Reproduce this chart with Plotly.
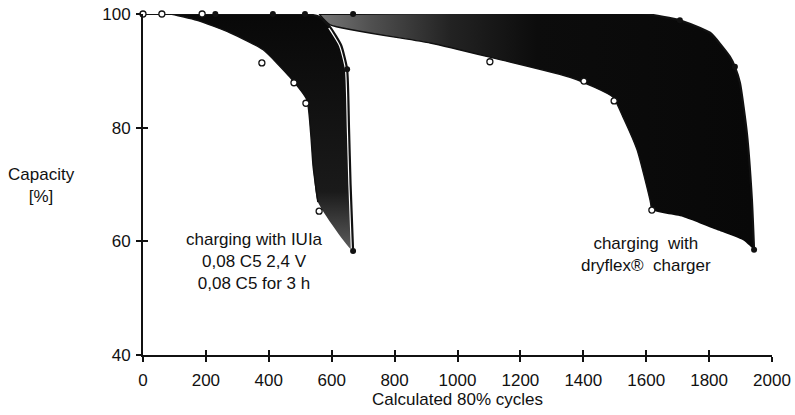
import plotly.graph_objects as go

# ---- data ----
# IUIa charging band
iu_upper_x = [0, 230, 413, 515, 560, 595, 630, 649, 655, 660, 668]
iu_upper_y = [100, 100, 100, 100, 99.5, 97.7, 94.5, 90.3, 80, 70, 58.3]
iu_lower_x = [60, 86, 172, 277, 382, 467, 521, 533, 541, 556]
iu_lower_y = [100, 100, 98.9, 96.7, 93.7, 88.9, 84.9, 79.1, 73.1, 66.9]
iu_open_x = [0, 60, 188, 378, 480, 518, 560]
iu_open_y = [100, 100, 100, 91.4, 87.9, 84.3, 65.3]
iu_dot_x = [230, 413, 515, 649, 668]
iu_dot_y = [100, 100, 100, 90.3, 58.3]

# dryflex charger band
dry_upper_x = [560, 668, 1192, 1297, 1494, 1600, 1707, 1803, 1866, 1882, 1898, 1920, 1936, 1943]
dry_upper_y = [100, 100, 100.4, 100.5, 100.4, 100, 98.9, 96.7, 92.5, 90.7, 87.9, 79.1, 67.4, 58.5]
dry_lower_x = [560, 595, 913, 1103, 1367, 1494, 1526, 1571, 1612, 1618]
dry_lower_y = [100, 98.1, 94.9, 92.4, 88.7, 85.4, 81.9, 76.1, 67.3, 65.5]
dry_bottom_x = [1618, 1717, 1825, 1908, 1943]
dry_bottom_y = [65.5, 64.3, 62.0, 60.2, 58.5]
dry_open_x = [1103, 1402, 1498, 1618]
dry_open_y = [91.6, 88.2, 84.7, 65.5]
dry_dot_x = [668, 1192, 1297, 1494, 1707, 1882, 1943]
dry_dot_y = [100, 100.4, 100.5, 100.4, 98.9, 90.7, 58.5]

x_ticks = [0, 200, 400, 600, 800, 1000, 1200, 1400, 1600, 1800, 2000]
y_ticks = [40, 60, 80, 100]

FONT = "Liberation Sans, Arial, Helvetica, sans-serif"
INK = "#111111"
SMOOTH = 0.5

fig = go.Figure()

# dryflex band polygon
dry_poly_x = dry_lower_x + dry_bottom_x[1:] + dry_upper_x[::-1]
dry_poly_y = dry_lower_y + dry_bottom_y[1:] + dry_upper_y[::-1]
fig.add_trace(go.Scatter(
    x=dry_poly_x, y=dry_poly_y, mode="lines", fill="toself",
    line=dict(width=0, color="rgba(0,0,0,0)", shape="spline", smoothing=SMOOTH),
    fillgradient=dict(type="horizontal",
                      colorscale=[[0, "#777777"], [0.12, "#505050"],
                                  [0.3, "#232323"], [0.5, "#0c0c0c"], [1, "#080808"]]),
    hoverinfo="skip", showlegend=False))

# IUIa band polygon
iu_poly_x = iu_lower_x + iu_upper_x[::-1]
iu_poly_y = iu_lower_y + iu_upper_y[::-1]
fig.add_trace(go.Scatter(
    x=iu_poly_x, y=iu_poly_y, mode="lines", fill="toself",
    line=dict(width=0, color="rgba(0,0,0,0)", shape="spline", smoothing=SMOOTH),
    fillgradient=dict(type="vertical",
                      colorscale=[[0, "#5e5e5e"], [0.25, "#1a1a1a"],
                                  [1, "#080808"]]),
    hoverinfo="skip", showlegend=False))

# thin white halo beside the descending IUIa upper curve (as in the print)
fig.add_trace(go.Scatter(x=iu_upper_x[5:], y=iu_upper_y[5:], mode="lines",
                         line=dict(color="white", width=4.5, shape="spline", smoothing=SMOOTH),
                         hoverinfo="skip", showlegend=False))

# edge lines
for xs, ys, w in [(iu_lower_x, iu_lower_y, 1.4), (dry_lower_x, dry_lower_y, 1.4),
                  (dry_upper_x, dry_upper_y, 2.2), (iu_upper_x, iu_upper_y, 2.2)]:
    fig.add_trace(go.Scatter(x=xs, y=ys, mode="lines",
                             line=dict(color=INK, width=w, shape="spline", smoothing=SMOOTH),
                             hoverinfo="skip", showlegend=False, cliponaxis=False))

# markers
fig.add_trace(go.Scatter(x=iu_dot_x + dry_dot_x, y=iu_dot_y + dry_dot_y, mode="markers",
                         marker=dict(size=6, color=INK), showlegend=False, cliponaxis=False))
fig.add_trace(go.Scatter(x=iu_open_x + dry_open_x, y=iu_open_y + dry_open_y, mode="markers",
                         marker=dict(size=6, color="white", line=dict(color=INK, width=1.3)),
                         showlegend=False, cliponaxis=False))

# dummy trace for overlay axes (inner tick halves)
fig.add_trace(go.Scatter(x=[None], y=[None], xaxis="x2", yaxis="y2", showlegend=False))

fig.update_layout(
    width=795, height=415,
    margin=dict(l=143, r=23, t=14, b=60),
    paper_bgcolor="white", plot_bgcolor="white",
    font=dict(family=FONT, color=INK, size=17),
    hovermode=False,
    xaxis=dict(range=[0, 2000], tickvals=x_ticks, ticks="outside", ticklen=5,
               tickwidth=1.5, tickcolor=INK, showline=True, linecolor=INK, linewidth=2,
               showgrid=False, zeroline=False, ticklabelstandoff=4, automargin=False,
               ticklabeloverflow="allow", tickfont=dict(size=17),
               title=dict(text="Calculated 80% cycles", standoff=2, font=dict(size=17))),
    yaxis=dict(range=[40, 100], tickvals=y_ticks, ticks="outside", ticklen=5,
               tickwidth=1.5, tickcolor=INK, showline=True, linecolor=INK, linewidth=2,
               showgrid=False, zeroline=False, ticklabelstandoff=2, automargin=False,
               ticklabeloverflow="allow", tickfont=dict(size=17)),
    xaxis2=dict(range=[0, 2000], tickvals=x_ticks, overlaying="x", anchor="y2",
                side="bottom", ticks="inside", ticklen=5, tickwidth=1.5, tickcolor=INK,
                showticklabels=False, showline=False, showgrid=False, zeroline=False,
                automargin=False),
    yaxis2=dict(range=[40, 100], tickvals=y_ticks, overlaying="y", anchor="x2",
                side="left", ticks="inside", ticklen=5, tickwidth=1.5, tickcolor=INK,
                showticklabels=False, showline=False, showgrid=False, zeroline=False,
                automargin=False),
    annotations=[
        dict(text="Capacity<br>[%]", xref="paper", yref="paper", x=-0.1606, y=0.4985,
             xanchor="center", yanchor="middle",
             showarrow=False, font=dict(size=17), align="center"),
        dict(text="charging with IUIa<br>0,08 C5 2,4 V<br>0,08 C5 for 3 h",
             x=356, y=56.4, xref="x", yref="y", showarrow=False,
             font=dict(size=17), align="center"),
        dict(text="charging\u00a0 with<br>dryflex\u00ae\u00a0 charger",
             x=1600, y=57.6, xref="x", yref="y", showarrow=False,
             font=dict(size=17), align="center"),
    ],
)

# remove the default 8px page margin so the 795x415 figure fills the window
fig.write_html("out.html", config={"displayModeBar": False},
               post_script="document.body.style.margin='0';document.body.style.overflow='hidden';")
